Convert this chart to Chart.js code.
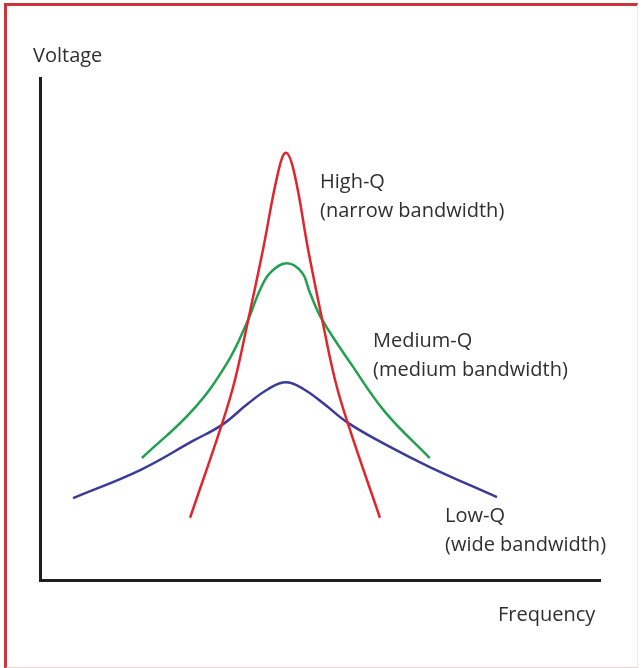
<!DOCTYPE html>
<html>
<head>
<meta charset="utf-8">
<title>Q factor and bandwidth</title>
<script src="https://cdn.jsdelivr.net/npm/chart.js@4.4.1/dist/chart.umd.min.js"></script>
<style>
  html, body { margin: 0; padding: 0; background: #fff; }
  #wrap { position: relative; width: 644px; height: 668px; overflow: hidden; }
  #frame {
    position: absolute; left: 4px; top: 3px; width: 630px; height: 661px;
    border-top: 3px solid #c9363d; border-left: 3px solid #c9363d;
    border-right: 1px solid #ececec; border-bottom: 2px solid #f1d2cd;
    pointer-events: none;
  }
  canvas { position: absolute; left: 0; top: 0; }
</style>
</head>
<body>
<div id="wrap">
  <canvas id="chart" width="644" height="668"></canvas>
  <div id="frame"></div>
</div>
<script>
// Frequency / voltage readings (arbitrary units, 0-100)
const highQFreq = [26.8, 32.5, 34.8, 37.1, 39.8, 42.5, 43.9, 45.4, 47.9, 50.4, 52.7, 55.0, 60.7];
const highQVolt = [12.4, 31.1, 39.8, 51.4, 65.7, 81.1, 85.1, 81.1, 65.7, 51.8, 39.8, 31.1, 12.4];

const medQFreq = [18.2, 27.3, 33.4, 37.0, 39.3, 41.1, 44.1, 46.8, 48.2, 50.4, 55.7, 61.6, 69.6];
const medQVolt = [24.3, 33.9, 43.2, 51.4, 57.8, 61.2, 63.1, 61.2, 57.2, 51.8, 42.8, 33.5, 24.3];

const lowQFreq = [5.9, 17.9, 27.3, 32.5, 37.1, 40.7, 43.9, 47.1, 50.7, 55.0, 62.5, 69.6, 81.6];
const lowQVolt = [16.3, 21.9, 27.7, 30.9, 35.1, 38.0, 39.4, 38.0, 35.1, 31.3, 26.5, 22.5, 16.5];

const curveNames = ['High-Q', 'Medium-Q', 'Low-Q'];
const curveNotes = ['(narrow bandwidth)', '(medium bandwidth)', '(wide bandwidth)'];
const axisNames = ['Frequency', 'Voltage'];

function toPoints(xs, ys) {
    return xs.map((x, i) => ({ x: x, y: ys[i] }));
}

// Text drawn next to the curves and the axes
const textColor = '#2f2f2f';
const textFont = '20px "Open Sans", "DejaVu Sans", sans-serif';

const annotationPlugin = {
    id: 'sketchText',
    afterDraw(chart) {
        const ctx = chart.ctx;
        const area = chart.chartArea;
        ctx.save();
        ctx.fillStyle = textColor;
        ctx.font = textFont;
        ctx.textAlign = 'left';
        ctx.textBaseline = 'middle';

        // curve labels, offset from the chart area corner
        const spots = [[280, 104], [333, 263], [405, 438]];
        curveNames.forEach((name, i) => {
            const [dx, dy] = spots[i];
            ctx.fillText(name, area.left + dx, area.top + dy);
            ctx.fillText(curveNotes[i], area.left + dx, area.top + dy + 29);
        });

        // axis names
        ctx.fillText(axisNames[1], area.left - 7, area.top - 22);
        ctx.fillText(axisNames[0], area.right - 102, area.bottom + 35);
        ctx.restore();
    }
};

const axisLine = { display: true, color: '#1f1f1f', width: 3 };

new Chart(document.getElementById('chart'), {
    type: 'line',
    data: {
        datasets: [
            {
                label: curveNames[0],
                data: toPoints(highQFreq, highQVolt),
                borderColor: '#e1252d'
            },
            {
                label: curveNames[1],
                data: toPoints(medQFreq, medQVolt),
                borderColor: '#21a04f'
            },
            {
                label: curveNames[2],
                data: toPoints(lowQFreq, lowQVolt),
                borderColor: '#3c3a98'
            }
        ]
    },
    options: {
        responsive: false,
        animation: false,
        datasets: {
            line: {
                borderWidth: 2.5,
                pointRadius: 0,
                fill: false,
                tension: 0.4
            }
        },
        layout: {
            padding: { left: 40, top: 78, right: 44, bottom: 88 }
        },
        plugins: {
            legend: { display: false },
            tooltip: { enabled: false }
        },
        scales: {
            x: {
                type: 'linear',
                min: 0,
                max: 100,
                ticks: { display: false },
                grid: { display: false },
                border: axisLine,
                afterFit: s => { s.height = 0; }
            },
            y: {
                min: 0,
                max: 100,
                ticks: { display: false },
                grid: { display: false },
                border: axisLine,
                afterFit: s => { s.width = 0; }
            }
        }
    },
    plugins: [annotationPlugin]
});
</script>
</body>
</html>
